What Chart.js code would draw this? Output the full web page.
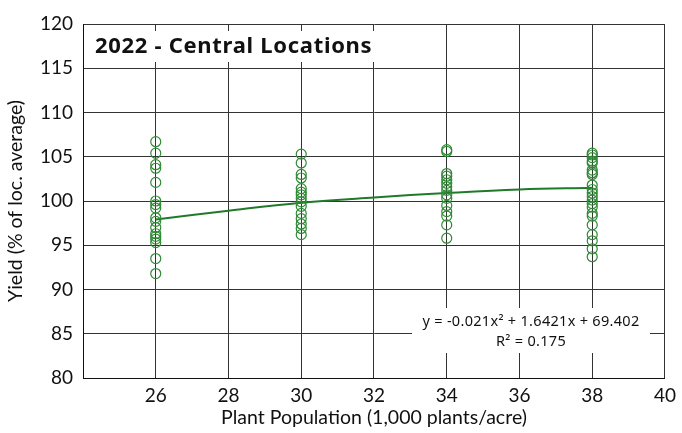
<!DOCTYPE html>
<html>
<head>
<meta charset="utf-8">
<script src="https://cdn.jsdelivr.net/npm/chart.js@4"></script>
<style>
  html, body { margin: 0; padding: 0; background: #fff; }
  #wrap { width: 682px; height: 433px; }
</style>
</head>
<body>
<div id="wrap"><canvas id="chart" width="682" height="433"></canvas></div>
<script>
// yield (% of location average) at each plant population
const yield26 = [106.7, 105.4, 104.1, 103.7, 102.1, 100.0, 99.6, 99.2, 98.1, 97.7, 97.0, 96.3, 96.0, 95.7, 95.3, 93.5, 91.8];
const yield30 = [105.3, 104.3, 103.0, 102.6, 101.4, 101.0, 100.7, 100.3, 99.9, 99.4, 98.6, 98.0, 97.4, 96.9, 96.2];
const yield34 = [105.8, 105.6, 103.1, 102.8, 102.4, 102.0, 101.6, 101.2, 100.7, 100.3, 99.5, 98.8, 98.3, 97.3, 95.8];
const yield38 = [105.4, 105.2, 104.9, 104.5, 104.3, 103.5, 103.2, 103.0, 101.8, 101.3, 100.9, 100.5, 100.1, 99.7, 99.3, 98.6, 98.3, 97.3, 96.2, 95.5, 94.6, 93.7];
const populations = [26, 30, 34, 38];

// trend line
const trendX = [26, 28, 30, 32, 34, 36, 38];
const trendY = [97.9, 98.9, 99.8, 100.4, 100.9, 101.3, 101.5];

const chartTitle = '2022 - Central Locations';
const eqLines = ['y = -0.021x\u00B2 + 1.6421x + 69.402', 'R\u00B2 = 0.175'];

const FONT = "Lato, 'Noto Sans', sans-serif";
const FONT_WIDE = "'Noto Sans', Lato, sans-serif";
const GREEN = '#2f8a35';

const toPoints = (xs, ys) => ys.map((y, i) => ({ x: xs[i], y: y }));

const scatterPts = [];
[yield26, yield30, yield34, yield38].forEach((arr, i) => {
  arr.forEach(v => scatterPts.push({ x: populations[i], y: v }));
});

// title and equation boxes drawn on top of grid
const overlays = {
  id: 'overlays',
  afterDatasetsDraw(chart) {
    const { ctx, chartArea: a } = chart;
    ctx.save();
    // title box
    ctx.fillStyle = '#fff';
    ctx.fillRect(a.left + 1, a.top + 7, 298, 31);
    ctx.fillStyle = '#111';
    ctx.font = "bold 22px " + FONT_WIDE;
    ctx.letterSpacing = '0.7px';
    ctx.textBaseline = 'middle';
    ctx.textAlign = 'left';
    ctx.fillText(chartTitle, a.left + 12, a.top + 23);
    ctx.letterSpacing = '0px';
    // equation box
    ctx.fillStyle = '#fff';
    ctx.fillRect(a.left + 329, a.top + 284, 238, 45);
    ctx.fillStyle = '#111';
    ctx.font = "14.5px " + FONT_WIDE;
    ctx.letterSpacing = '0.3px';
    ctx.textAlign = 'center';
    ctx.fillText(eqLines[0], a.left + 448, a.top + 298);
    ctx.fillText(eqLines[1], a.left + 448, a.top + 318);
    ctx.restore();
  }
};

const ctx = document.getElementById('chart').getContext('2d');
new Chart(ctx, {
  type: 'scatter',
  data: {
    datasets: [
      {
        label: 'trend',
        data: toPoints(trendX, trendY),
        showLine: true,
        borderColor: '#1f7a2a',
        borderWidth: 2,
        pointRadius: 0,
        tension: 0.4,
        order: 2
      },
      {
        label: 'yield',
        data: scatterPts,
        showLine: false,
        pointRadius: 5,
        pointBorderWidth: 1.2,
        pointBorderColor: GREEN,
        pointBackgroundColor: 'rgba(0,0,0,0)',
        order: 1
      }
    ]
  },
  options: {
    responsive: false,
    animation: false,
    layout: { padding: { top: 24, right: 15, left: 0, bottom: 0 } },
    plugins: {
      legend: { display: false },
      tooltip: { enabled: false }
    },
    scales: {
      x: {
        type: 'linear',
        min: 24,
        max: 40,
        afterFit: s => { s.height = 55; },
        ticks: {
          stepSize: 2,
          padding: 6,
          color: '#111',
          font: { family: FONT, size: 19 },
          callback: v => (v === 24 ? '' : v)
        },
        grid: { color: '#333', lineWidth: 1, drawTicks: false },
        border: { color: '#111', width: 1 },
        title: {
          display: true,
          text: 'Plant Population (1,000 plants/acre)',
          color: '#111',
          font: { family: FONT, size: 19.5 },
          padding: { top: 0 }
        }
      },
      y: {
        min: 80,
        max: 120,
        afterFit: s => { s.width = 83; },
        ticks: {
          stepSize: 5,
          padding: 10,
          color: '#111',
          font: { family: FONT, size: 19 }
        },
        grid: { color: '#333', lineWidth: 1, drawTicks: false },
        border: { color: '#111', width: 1 },
        title: {
          display: true,
          text: 'Yield (% of loc. average)',
          color: '#111',
          font: { family: FONT, size: 19.5 },
          padding: { bottom: 0 }
        }
      }
    }
  },
  plugins: [overlays]
});
</script>
</body>
</html>
